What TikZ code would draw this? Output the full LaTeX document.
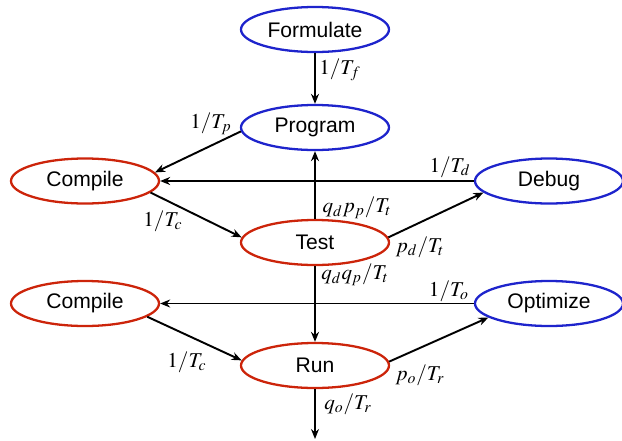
\documentclass[tikz,border=0pt]{standalone}
\usepackage{mathptmx}
\usepackage[no-math]{fontspec}
\newfontfamily\arialfont{Liberation Sans}
\usepackage{tikz}
\usetikzlibrary{arrows.meta,shapes.geometric}
\definecolor{stateblue}{RGB}{30,36,204}
\definecolor{statered}{RGB}{204,36,10}

\begin{document}
\begin{tikzpicture}[
        >={Stealth[length=2mm,width=1.6mm]},
        font=\arialfont\large,
        state/.style={ellipse, draw, line width=1.3pt, inner sep=0pt, minimum width=2.96cm, minimum height=0.9cm},
        devstate/.style={state, draw=stateblue},
        runstate/.style={state, draw=statered},
        flow/.style={->, line width=1.1pt},
        rate/.style={font=\large, inner sep=0pt}
    ]
        \useasboundingbox (0,0) rectangle (12.44,-8.8);
        \node[devstate] (formulate) at (6.3,-0.59) {Formulate};
        \node[devstate] (program) at (6.3,-2.55) {Program};
        \node[runstate] (compileA) at (1.7,-3.62) {Compile};
        \node[devstate] (debug) at (10.98,-3.62) {Debug};
        \node[runstate] (test) at (6.3,-4.85) {Test};
        \node[runstate] (compileB) at (1.7,-6.07) {Compile};
        \node[devstate] (optimize) at (10.98,-6.07) {Optimize};
        \node[runstate] (run) at (6.3,-7.31) {Run};
        \coordinate (exit) at (6.3,-8.78);
        \draw[flow] (formulate.south) -- (program.north);
        \draw[flow] (program.183) -- (compileA.7);
        \draw[flow] (debug.west) -- (compileA.east);
        \draw[flow] (compileA.-10) -- (test.176);
        \draw[flow] (test.north) -- (program.south);
        \draw[flow] (test.4) -- (debug.190);
        \draw[flow] (test.south) -- (run.north);
        \draw[flow] (optimize.west) -- (compileB.east);
        \draw[flow] (compileB.-12) -- (run.176);
        \draw[flow] (run.3) -- (optimize.193);
        \draw[flow] (run.south) -- (exit);
        \node[rate] (lf) at (6.8,-1.4) {$1/T_f$};
        \node[rate] (lp) at (4.22,-2.48) {$1/T_p$};
        \node[rate] (ld) at (9.0,-3.34) {$1/T_d$};
        \node[rate] (lca) at (3.26,-4.42) {$1/T_c$};
        \node[rate] (ltp) at (7.14,-4.16) {$q_d p_p/T_t$};
        \node[rate] (ltd) at (8.4,-4.94) {$p_d/T_t$};
        \node[rate] (ltr) at (7.1,-5.5) {$q_d q_p/T_t$};
        \node[rate] (lo) at (8.98,-5.82) {$1/T_o$};
        \node[rate] (lcb) at (3.74,-7.24) {$1/T_c$};
        \node[rate] (lro) at (8.4,-7.5) {$p_o/T_r$};
        \node[rate] (lrx) at (6.96,-8.08) {$q_o/T_r$};
    \end{tikzpicture}
\end{document}
